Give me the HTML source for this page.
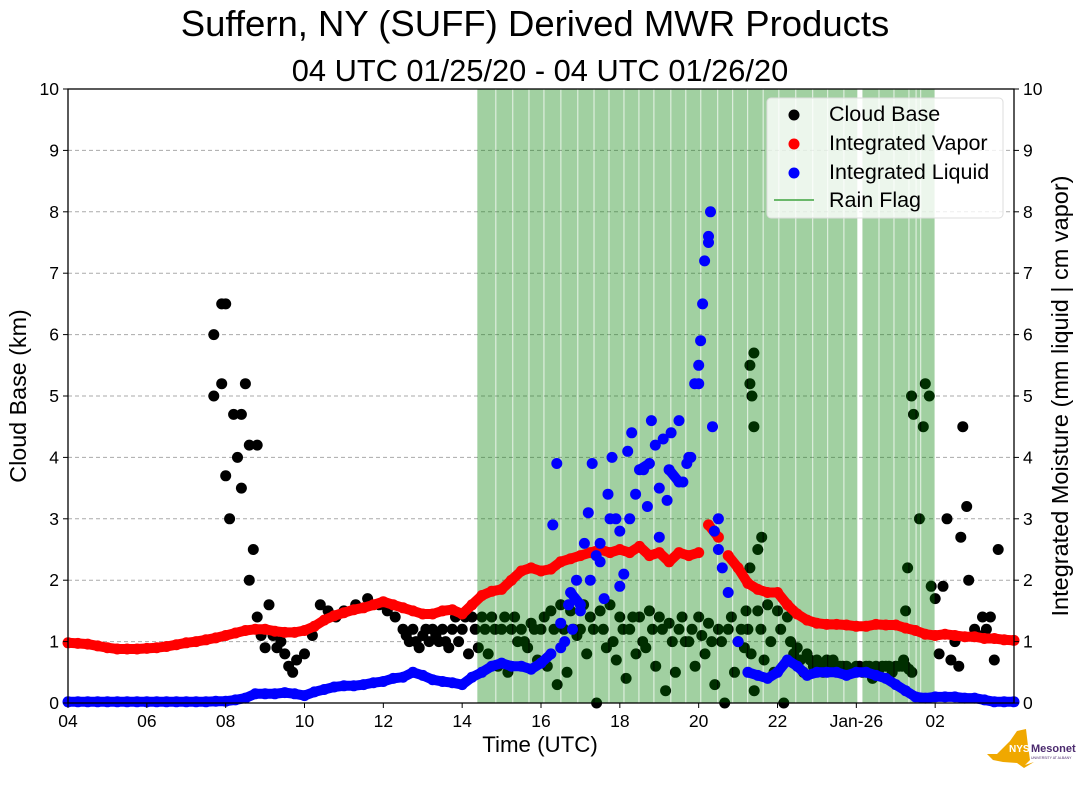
<!DOCTYPE html>
<html><head><meta charset="utf-8"><style>
html,body{margin:0;padding:0;background:#fff;}
svg{display:block;font-family:"Liberation Sans","DejaVu Sans",sans-serif;}
</style></head><body>
<svg id="chart" width="1089" height="804" viewBox="0 0 1089 804" xmlns="http://www.w3.org/2000/svg">
<text x="535" y="36" font-size="36.5" text-anchor="middle" fill="#000">Suffern, NY (SUFF) Derived MWR Products</text>
<text x="540" y="81" font-size="30.8" text-anchor="middle" fill="#000">04 UTC 01/25/20 - 04 UTC 01/26/20</text>
<g id="grid"></g>
<g id="cloud"></g>
<g id="rain"></g>
<g id="marks"></g>
<rect x="68" y="89" width="946" height="614" fill="none" stroke="#000" stroke-width="1.3"/>
<g id="axes"></g>
<text x="540" y="752" font-size="22.3" text-anchor="middle">Time (UTC)</text>
<text transform="translate(26,396) rotate(-90)" font-size="23.3" text-anchor="middle">Cloud Base (km)</text>
<text transform="translate(1068,396) rotate(-90)" font-size="23.5" text-anchor="middle">Integrated Moisture (mm liquid | cm vapor)</text>
<g>
<rect x="767" y="98" width="236" height="120" rx="4" fill="#fff" fill-opacity="0.8" stroke="#ddd"/>
<circle cx="794" cy="115" r="5.5" fill="#000"/>
<text x="829" y="121" font-size="21.5">Cloud Base</text>
<circle cx="794" cy="144" r="5.5" fill="#f00"/>
<text x="829" y="150" font-size="21.5">Integrated Vapor</text>
<circle cx="794" cy="173" r="5.5" fill="#00f"/>
<text x="829" y="179" font-size="21.5">Integrated Liquid</text>
<line x1="774" y1="200" x2="814" y2="200" stroke="#6ab86a" stroke-width="2"/>
<text x="829" y="207" font-size="21.5">Rain Flag</text>
</g>
<g>
<polygon points="987,754 997,754 1003,748 1010,741 1017,731 1026,729 1028,746 1030,760 1025,765 1034,762 1024,768 1017,763 1003,762 993,760" fill="#f0a800"/>
<text x="1009" y="752" font-size="10" font-weight="bold" fill="#fff">NYS</text>
<text x="1031" y="752" font-size="11" font-weight="bold" fill="#4b2a6e">Mesonet</text>
<text x="1031" y="759" font-size="3.5" fill="#4b2a6e">UNIVERSITY AT ALBANY</text>
</g>
</svg>
<script>
// hours since 04 UTC
const rainStart=[10.40,10.88,11.31,11.72,12.10,12.53,12.96,13.37,13.75,14.13,14.51,14.89,15.32,15.70,16.08,16.51,16.89,17.27,17.66,18.06,18.49,18.92,19.30,19.71,20.17,20.60,20.98,21.36,21.54,21.66];
const rainEnd  =[10.83,11.26,11.67,12.05,12.48,12.91,13.32,13.70,14.08,14.46,14.84,15.27,15.65,16.03,16.46,16.84,17.22,17.61,18.01,18.44,18.87,19.25,19.66,20.01,20.55,20.93,21.31,21.49,21.61,21.97];
const seriesStep=0.25;
const vapor=[0.98,0.97,0.96,0.93,0.9,0.88,0.88,0.88,0.89,0.9,0.92,0.95,0.98,1.0,1.03,1.06,1.1,1.14,1.18,1.2,1.2,1.17,1.15,1.15,1.18,1.25,1.35,1.42,1.47,1.52,1.55,1.6,1.65,1.6,1.55,1.5,1.45,1.45,1.5,1.52,1.45,1.6,1.75,1.82,1.85,2.0,2.15,2.2,2.15,2.18,2.3,2.35,2.4,2.45,2.5,2.45,2.5,2.45,2.55,2.4,2.45,2.3,2.45,2.4,2.45,2.9,2.7,2.4,2.2,1.95,1.85,1.8,1.8,1.6,1.45,1.35,1.3,1.28,1.28,1.27,1.25,1.25,1.28,1.27,1.27,1.22,1.18,1.12,1.1,1.12,1.1,1.08,1.08,1.05,1.05,1.03,1.02];
const liquid=[0.02,0.02,0.02,0.02,0.02,0.02,0.02,0.02,0.02,0.02,0.02,0.02,0.02,0.02,0.02,0.03,0.03,0.05,0.08,0.15,0.15,0.15,0.17,0.15,0.12,0.18,0.22,0.26,0.28,0.28,0.3,0.33,0.35,0.4,0.42,0.5,0.45,0.38,0.35,0.33,0.3,0.42,0.5,0.6,0.65,0.6,0.6,0.55,0.65,0.8,1.3,1.8,1.6,2.0,2.3,3.0,2.8,3.0,3.8,3.9,3.5,3.8,3.6,4.0,5.2,7.5,3.0,1.8,1.0,0.5,0.45,0.4,0.5,0.7,0.6,0.45,0.5,0.5,0.5,0.45,0.5,0.5,0.45,0.4,0.3,0.2,0.1,0.08,0.1,0.1,0.1,0.08,0.08,0.05,0.02,0.02,0.02];
const liquidExtraT=[16.3,16.25,16.15,16.1,16.05,16.0,15.9,16.35,14.8,15.5,12.4,12.3,13.3,13.8,14.3,15.2,13.4,14.1,13.6,13.0,14.0,12.6,16.4,16.6,13.1,14.6,15.7,13.2,14.9,15.1,13.9,12.9,14.4,15.6,13.5,12.8,14.2,15.3,16.5,12.7,13.7,14.7,15.8,12.5,15.0];
const liquidExtraV=[8.0,7.6,7.2,6.5,5.9,5.5,5.2,4.5,4.6,4.6,3.9,2.9,3.9,4.0,4.4,3.3,2.4,2.1,1.7,1.5,1.9,1.0,2.8,2.2,2.6,3.8,3.9,3.1,4.2,4.3,3.0,2.0,3.4,3.6,2.6,1.2,4.1,4.4,2.5,1.6,3.4,3.2,4.0,0.9,2.7];
const cloudBandStart=8.5;
const cloudMain=[1.2,1.2,1.1,1.2,1.2,1.2,1.2,1.4,1.4,1.4,1.2,1.2,1.2,1.3,1.2,1.5,1.6,1.5,1.2,1.4,1.5,1.6,1.4,1.2,1.4,1.5,1.4,1.3,1.2,1.0,1.4,1.3,1.2,1.2,1.0,1.2,1.5,1.6,1.5,1.4,0.9,0.8,0.7,0.7,0.6,0.6,0.6,0.6,0.6,0.6,0.6,0.6];
const cloudMid=[1.1,1.0,1.2,1.1,1.0,1.4,1.4,1.2,1.2,1.2,1.4,1.4,1.0,1.2,1.4,1.2,1.2,1.2,1.6,1.2,1.2,1.0,1.2,1.4,1.0,1.2,1.2,1.0,1.4,1.2,1.1,1.0,1.0,1.4,1.2,0.8,1.2,1.0,1.2,1.0,0.7,0.7,0.6,0.6,0.6,0.55,0.6,0.6,0.55,0.6,0.6,0.55];
const cloudLow=[1.0,0.9,1.0,1.0,0.9,1.0,0.8,0.9,0.8,0.6,0.5,1.0,0.9,0.7,0.6,0.3,0.5,1.1,0.8,0.0,0.9,0.7,0.4,0.8,0.9,0.6,0.2,0.5,1.0,0.6,0.8,0.3,0.0,0.5,0.9,0.2,0.7,0.5,0.0,0.8,0.5,0.6,0.5,0.7,0.6,0.5,0.5,0.4,0.6,0.5,0.6,0.5];
const cloudT=[3.7,3.9,4.0,3.7,3.9,4.5,4.2,4.4,4.3,4.6,4.8,4.4,4.0,4.1,4.7,4.6,5.1,4.8,4.9,5.0,5.3,5.5,5.6,5.7,5.8,6.0,5.2,5.4,6.2,6.4,6.6,6.8,7.0,7.3,7.6,7.9,8.1,8.3,17.3,17.4,17.3,17.35,17.4,17.6,17.5,17.3,17.2,21.2,21.25,21.3,21.4,21.45,21.6,21.7,21.75,21.85,22.0,22.1,21.9,22.2,22.3,22.4,22.6,22.65,22.7,22.8,22.85,23.0,23.2,23.4,23.5,23.6,22.5,23.1,23.3];
const cloudV=[6.0,6.5,6.5,5.0,5.2,5.2,4.7,4.7,4.0,4.2,4.2,3.5,3.7,3.0,2.5,2.0,1.6,1.4,1.1,0.9,0.9,0.8,0.6,0.5,0.7,0.8,1.1,1.0,1.1,1.6,1.5,1.4,1.5,1.6,1.7,1.6,1.5,1.4,5.5,5.7,5.2,5.0,4.5,2.7,2.5,2.2,1.5,0.7,1.5,2.2,5.0,4.7,3.0,4.5,5.2,5.0,1.7,0.8,1.9,1.9,3.0,0.7,0.6,2.7,4.5,3.2,2.0,1.2,1.4,1.4,0.7,2.5,1.0,1.1,1.2];
const xTickLabels=["04","06","08","10","12","14","16","18","20","22","Jan-26","02"];
const yTickLabels=["0","1","2","3","4","5","6","7","8","9","10"];

const NS="http://www.w3.org/2000/svg";
const X0=68,X1=1014,Y0=703,Y1=89;
function xs(t){return X0+(t/24)*(X1-X0);}
function ys(v){return Y0-(v/10)*(Y0-Y1);}
function mk(tag,attrs,parent){const e=document.createElementNS(NS,tag);for(const k in attrs)e.setAttribute(k,attrs[k]);parent.appendChild(e);return e;}
const rainG=document.getElementById('rain'),gridG=document.getElementById('grid'),marks=document.getElementById('marks'),axes=document.getElementById('axes'),cloudG=document.getElementById('cloud');
for(let i=0;i<rainStart.length;i++){
  const x0=xs(rainStart[i])-0.6,x1=xs(rainEnd[i])+0.6;
  const r=mk('rect',{x:x0,y:Y1,width:x1-x0,height:Y0-Y1,fill:'#008000','fill-opacity':0.37},rainG);
  
  
}
for(let v=1;v<10;v++){
  const l=mk('line',{x1:X0,x2:X1,y1:ys(v),y2:ys(v),stroke:'#aaa','stroke-dasharray':'4,3','stroke-width':1},gridG);
  
  
}
function dot(t,v,c,parent){
  return mk('circle',{cx:xs(t).toFixed(1),cy:ys(v).toFixed(1),r:5.5,fill:c},parent);
}
cloudMain.forEach((v,i)=>{const d=dot(cloudBandStart+i*0.25,v,'#000',cloudG);});
cloudMid.forEach((v,i)=>{const d=dot(cloudBandStart+i*0.25+0.08,v,'#000',cloudG);});
cloudLow.forEach((v,i)=>{const d=dot(cloudBandStart+i*0.25+0.16,v,'#000',cloudG);});
cloudT.forEach((t,i)=>{const d=dot(t,cloudV[i],'#000',cloudG);});
function series(arr,color,name,maxJump){
  const g=mk('g',{},marks);
  
  
  let seg=[];
  const flush=()=>{if(seg.length>1){const pl=mk('polyline',{points:seg.join(' '),fill:'none',stroke:color,'stroke-width':10,'stroke-linejoin':'round','stroke-linecap':'round'},g);}seg=[];};
  arr.forEach((v,i)=>{
    if(i>0&&Math.abs(v-arr[i-1])>maxJump)flush();
    seg.push(xs(i*seriesStep).toFixed(1)+','+ys(v).toFixed(1));
  });
  flush();
  arr.forEach((v,i)=>{const d=dot(i*seriesStep,v,color,g);});
  return g;
}
series(vapor,'#f00','integrated-vapor',0.3);
const lg=series(liquid,'#00f','integrated-liquid',0.2);
liquidExtraT.forEach((t,i)=>{const d=dot(t,liquidExtraV[i],'#00f',lg);});
xTickLabels.forEach((s,i)=>{
  const x=xs(i*2);
  const tk=mk('line',{x1:x,x2:x,y1:Y0,y2:Y0+5,stroke:'#000'},axes);
  
  
  const tx=mk('text',{x:x,y:Y0+24,'font-size':17.5,'text-anchor':'middle'},axes);
  tx.textContent=s;
  
  
});
yTickLabels.forEach((s,i)=>{
  const y=ys(i);
  mk('line',{x1:X0-5,x2:X0,y1:y,y2:y,stroke:'#000'},axes);
  mk('line',{x1:X1,x2:X1+5,y1:y,y2:y,stroke:'#000'},axes);
  const a=mk('text',{x:X0-9,y:y+6,'font-size':17.5,'text-anchor':'end'},axes);
  a.textContent=s;
  
  
  const b=mk('text',{x:X1+9,y:y+6,'font-size':17.5,'text-anchor':'start'},axes);
  b.textContent=s;
  
  
});
</script>
</body></html>
